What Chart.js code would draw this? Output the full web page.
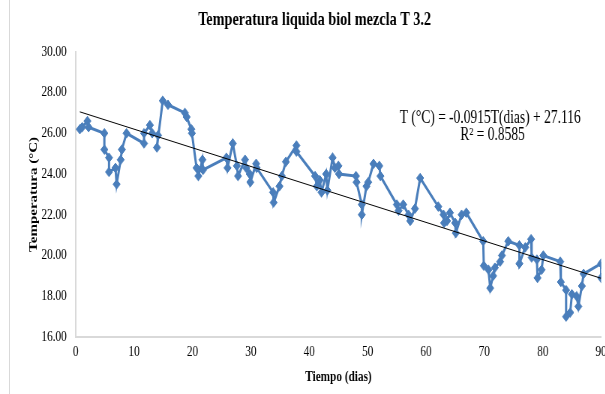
<!DOCTYPE html>
<html>
<head>
<meta charset="utf-8">
<script src="https://cdn.jsdelivr.net/npm/chart.js@4"></script>
<style>
  html, body { margin: 0; padding: 0; background: #fff; overflow: hidden; }
  #frame { position: relative; width: 605px; height: 394px; overflow: hidden; }
  #edge { position: absolute; left: 9px; top: 0; width: 1px; height: 394px; background: #d9d9d9; }
  #wrap { position: absolute; left: 0; top: 0; width: 815px; height: 394px; transform: scaleX(0.75); transform-origin: 0 0; }
</style>
</head>
<body>
<div id="frame">
  <div id="edge"></div>
  <div id="wrap"><canvas id="c"></canvas></div>
</div>
<script>
// measured points: days and liquid temperature (°C)
const dias = [0.7, 1.1, 2.0, 2.2, 4.9, 4.9, 5.7, 5.7, 6.8, 7.0,
  7.7, 7.9, 8.7, 11.7, 11.7, 12.7, 13.1, 14.1, 13.9, 14.9,
  15.8, 18.7, 19.0, 19.8, 19.9, 20.7, 21.0, 21.7, 21.8, 25.8,
  26.0, 26.9, 27.6, 27.8, 29.0, 29.2, 29.8, 29.9, 30.9, 31.0,
  33.8, 33.9, 34.9, 35.3, 36.0, 37.8, 37.8, 41.0, 41.3, 41.8,
  42.1, 42.9, 43.1, 44.0, 44.4, 45.0, 45.1, 48.0, 48.1, 49.0,
  49.0, 49.8, 50.1, 51.0, 52.0, 52.2, 55.0, 55.3, 56.1, 57.0,
  57.3, 58.1, 59.0, 62.1, 63.0, 63.1, 63.6, 64.1, 65.0, 65.1,
  66.1, 66.9, 69.8, 69.9, 70.7, 71.0, 71.5, 71.8, 72.7, 73.0,
  74.1, 76.0, 76.0, 77.0, 78.0, 78.1, 79.0, 79.1, 79.8, 80.1,
  83.0, 83.1, 84.0, 84.0, 84.7, 85.0, 85.8, 86.1, 86.7, 87.0,
  90.0, 90.0];
const temps = [26.2, 26.3, 26.6, 26.3, 26.0, 25.2, 24.8, 24.1, 24.3, 23.5,
  24.7, 25.2, 26.0, 25.5, 26.0, 26.4, 26.0, 25.9, 25.3, 27.6,
  27.4, 27.0, 26.8, 26.2, 26.0, 24.3, 23.9, 24.7, 24.2, 24.8,
  24.3, 25.5, 24.4, 23.9, 24.7, 24.3, 24.0, 23.6, 24.5, 24.3,
  23.1, 22.6, 23.4, 23.9, 24.6, 25.4, 25.1, 23.9, 23.4, 23.7,
  23.1, 24.0, 23.2, 24.8, 24.3, 24.4, 24.0, 23.9, 23.6, 22.5,
  22.0, 23.4, 23.6, 24.5, 24.4, 23.9, 22.5, 22.2, 22.5, 22.0,
  21.7, 22.3, 23.8, 22.4, 22.0, 21.6, 21.7, 22.1, 21.6, 21.1,
  22.0, 22.1, 20.7, 19.5, 19.3, 18.4, 19.0, 19.4, 19.7, 20.0,
  20.7, 20.5, 19.6, 20.4, 20.8, 19.9, 19.8, 18.9, 19.3, 20.0,
  19.7, 18.7, 18.3, 17.0, 17.2, 18.1, 18.0, 17.5, 18.5, 19.1,
  19.6, 18.9];

// linear trend as printed on the chart
const slope = -0.0915;
const intercept = 27.116;
const trendText = ['T (°C) = -0.0915T(dias) + 27.116', 'R² = 0.8585'];

const serif = "'Liberation Serif', 'Times New Roman', serif";
const blue = '#4a7ebb';

const points = dias.map((d, i) => ({ x: d, y: temps[i] }));
const x0 = dias[0], x1 = 90;
const trend = [{ x: x0, y: intercept + slope * x0 }, { x: x1, y: intercept + slope * x1 }];

const trendLabel = {
  id: 'trendLabel',
  afterDatasetsDraw(chart) {
    const { ctx, scales: { x, y } } = chart;
    ctx.save();
    ctx.fillStyle = '#000';
    ctx.font = '18px ' + serif;
    ctx.textAlign = 'center';
    ctx.textBaseline = 'middle';
    ctx.fillText(trendText[0], x.getPixelForValue(71), y.getPixelForValue(26.72));
    ctx.fillText(trendText[1], x.getPixelForValue(71.4), y.getPixelForValue(25.88));
    ctx.restore();
  }
};

new Chart(document.getElementById('c'), {
  type: 'scatter',
  data: {
    datasets: [
      {
        data: points,
        showLine: true,
        borderColor: blue,
        backgroundColor: blue,
        borderWidth: 3,
        pointStyle: 'rectRot',
        pointRadius: 4.8,
        pointBorderWidth: 1,
        order: 2
      },
      {
        data: trend,
        showLine: true,
        borderColor: '#000',
        borderWidth: 1,
        pointRadius: 0,
        order: 1
      }
    ]
  },
  options: {
    responsive: true,
    maintainAspectRatio: false,
    animation: false,
    layout: { padding: { left: 24, right: 0, top: 0, bottom: 8 } },
    plugins: {
      legend: { display: false },
      tooltip: { enabled: false },
      title: {
        display: true,
        text: 'Temperatura liquida biol mezcla T 3.2',
        color: '#000',
        font: { family: serif, size: 19, weight: 'bold' },
        padding: { top: 9, bottom: 20 }
      }
    },
    scales: {
      x: {
        type: 'linear',
        min: 0,
        max: 90,
        ticks: { stepSize: 10, color: '#000', font: { family: serif, size: 15 }, padding: 6 },
        grid: { color: 'transparent', drawTicks: false },
        border: { display: true, color: '#d9d9d9', width: 2 },
        title: {
          display: true,
          text: 'Tiempo (dias)',
          color: '#000',
          font: { family: serif, size: 15, weight: 'bold' },
          padding: { top: 0, bottom: 0 }
        },
        afterFit(scale) { scale.height = 49; }
      },
      y: {
        min: 16,
        max: 30,
        ticks: {
          stepSize: 2,
          color: '#000',
          font: { family: serif, size: 15 },
          padding: 12,
          callback: v => v.toFixed(2)
        },
        grid: { color: 'transparent', drawTicks: false },
        border: { display: true, color: '#d9d9d9', width: 2 },
        title: {
          display: true,
          text: 'Temperatura (°C)',
          color: '#000',
          font: { family: serif, size: 15, weight: 'bold' },
          padding: { top: 12, bottom: 0 }
        },
        afterFit(scale) { scale.width = 77; }
      }
    }
  },
  plugins: [trendLabel]
});
</script>
</body>
</html>
